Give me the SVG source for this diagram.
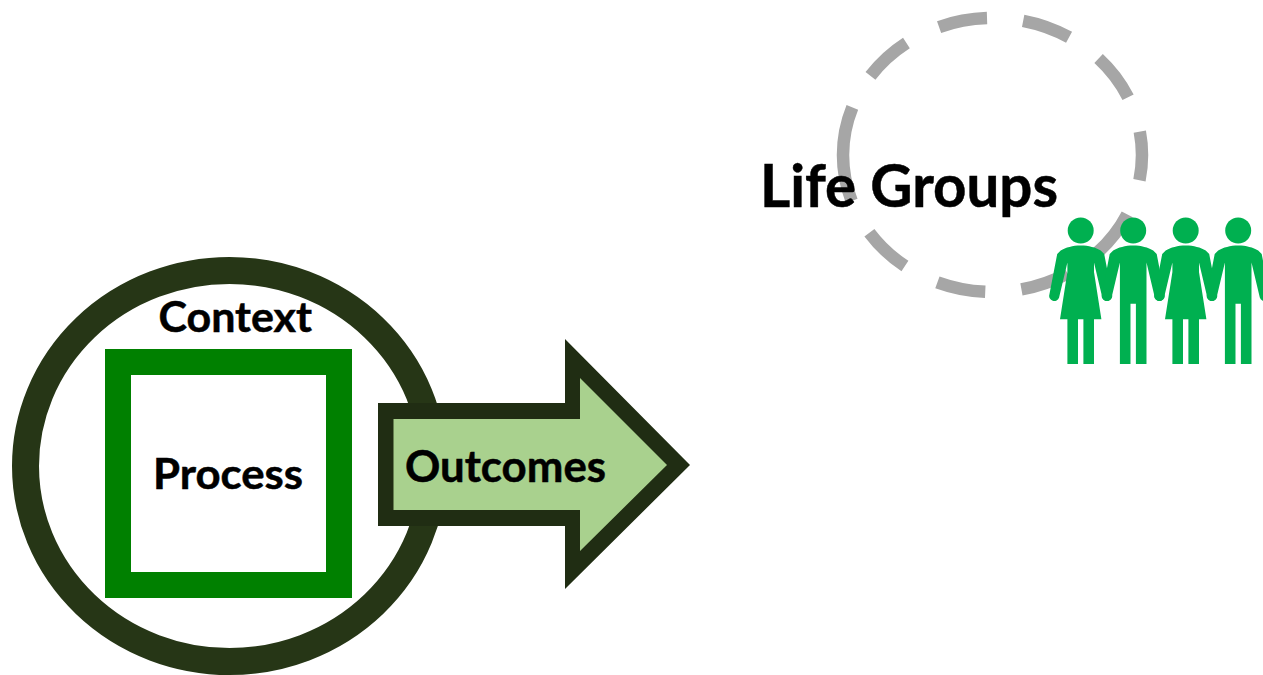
<svg xmlns="http://www.w3.org/2000/svg" width="1263" height="675" viewBox="0 0 1263 675">
  <style>
    text { font-family: "Lato", "Liberation Sans", sans-serif; font-weight: 700; fill: #000; stroke: #000; stroke-width: 0.5; }
    .person { fill: #00b050; }
  </style>
  <defs>
    <g id="female" class="person">
      <circle cx="0" cy="230.5" r="13"/>
      <path d="M0,245.5 C-8,245.5 -15,247.5 -20,250.5 L-23.5,254 L-31.3,294.5 A5,5 0 0 0 -21.6,297.5 L-13.3,262.5 L-13.3,272 L-20.7,319.3 L-13.3,319.3 L-13.3,364 L-2.7,364 L-2.7,319.3 L2.7,319.3 L2.7,364 L13.3,364 L13.3,319.3 L20.7,319.3 L13.3,272 L13.3,262.5 L21.6,297.5 A5,5 0 0 0 31.3,294.5 L23.5,254 L20,250.5 C15,247.5 8,245.5 0,245.5 Z"/>
    </g>
    <g id="male" class="person">
      <circle cx="0" cy="230.5" r="13"/>
      <path d="M0,245.5 C-8,245.5 -15,247.5 -20,250.5 L-23.5,254 L-31.3,294.5 A5,5 0 0 0 -21.6,297.5 L-13.3,262.5 L-13.3,364 L-2.7,364 L-2.7,303.7 L2.7,303.7 L2.7,364 L13.3,364 L13.3,262.5 L21.6,297.5 A5,5 0 0 0 31.3,294.5 L23.5,254 L20,250.5 C15,247.5 8,245.5 0,245.5 Z"/>
    </g>
  </defs>

  <g id="life-groups-circle">
    <path d="M843,155 A149.5,137 0 0 1 1142,155 A149.5,137 0 0 1 843,155 Z" fill="none" stroke="#a6a6a6" stroke-width="12.5" stroke-dasharray="48.9 36.4"/>
  </g>
  <g id="life-groups-people">
    <use href="#female" x="1080.7"/>
    <use href="#male" x="1133.2"/>
    <use href="#female" x="1185.7"/>
    <use href="#male" x="1238.2"/>
  </g>
  <g id="life-groups-label">
    <text x="760" y="207" font-size="60" textLength="298" lengthAdjust="spacingAndGlyphs">Life Groups</text>
  </g>

  <g id="context">
    <ellipse cx="229.5" cy="466" rx="204" ry="195.5" fill="#fff" stroke="#263616" stroke-width="27"/>
    <text x="158.5" y="332" font-size="42" textLength="153.5" lengthAdjust="spacingAndGlyphs">Context</text>
  </g>
  <g id="process">
    <rect x="118" y="362" width="221" height="223" fill="#fff" stroke="#008000" stroke-width="26"/>
    <text x="153" y="489" font-size="42" textLength="150" lengthAdjust="spacingAndGlyphs">Process</text>
  </g>
  <g id="outcomes">
    <polygon points="378,403 565,403 565,339 690,465 565,589 565,526 378,526" fill="#202d13"/>
    <polygon points="393.5,419 580,419 580,378 667,465 580,551 580,510 393.5,510" fill="#a9d18e"/>
    <text x="405" y="482" font-size="43" textLength="201" lengthAdjust="spacingAndGlyphs">Outcomes</text>
  </g>
  <g id="connectors"/>
</svg>
